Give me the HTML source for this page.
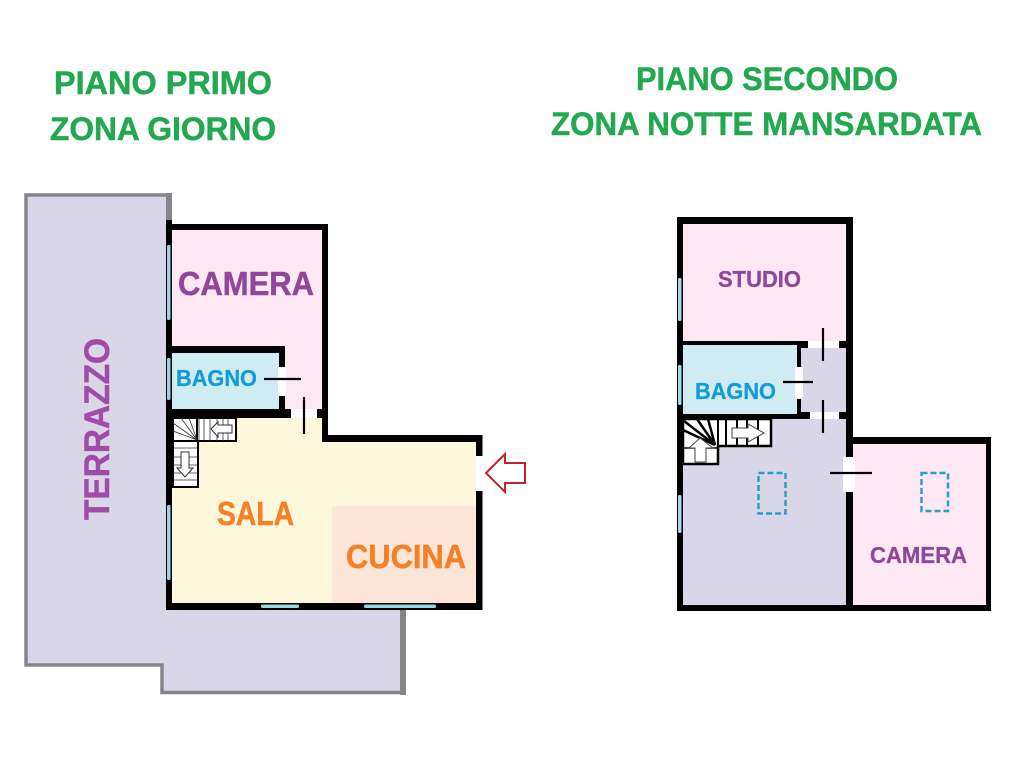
<!DOCTYPE html>
<html lang="it">
<head>
<meta charset="utf-8">
<title>Piano primo e secondo</title>
<style>
html,body{margin:0;padding:0;background:#fff;width:1024px;height:768px;overflow:hidden}
svg{display:block}
text{font-family:"Liberation Sans",sans-serif;font-weight:bold;paint-order:stroke}
</style>
</head>
<body>
<svg width="1024" height="768" viewBox="0 0 1024 768" xmlns="http://www.w3.org/2000/svg">
<rect width="1024" height="768" fill="#fff"/>

<!-- Titles -->
<g fill="#22a950" stroke="#22a950" stroke-width="0.500" font-size="32">
<text x="54" y="94" textLength="218" lengthAdjust="spacingAndGlyphs">PIANO PRIMO</text>
<text x="50" y="140" textLength="226" lengthAdjust="spacingAndGlyphs">ZONA GIORNO</text>
<text x="636" y="90" textLength="262" lengthAdjust="spacingAndGlyphs">PIANO SECONDO</text>
<text x="551" y="135" textLength="431" lengthAdjust="spacingAndGlyphs">ZONA NOTTE MANSARDATA</text>
</g>

<!-- Terrace -->
<polygon points="26,195 169.500,195 169.500,608 403,608 403,692.500 162,692.500 162,665 26,665" fill="#d9d6e8" stroke="#858589" stroke-width="3.500"/>
<rect x="400" y="608" width="6" height="87" fill="#858589"/>
<rect x="166" y="193" width="6" height="30" fill="#858589"/>

<!-- First floor fills -->
<rect x="172" y="230" width="150" height="190" fill="#fde8f3"/>
<rect x="172" y="353" width="107" height="56" fill="#cfecf3"/>
<polygon points="172,418 322,418 322,442 476,442 476,603 172,603" fill="#fef7dc"/>
<rect x="332" y="506" width="144" height="97" fill="#fde6d8"/>

<!-- First floor walls -->
<g fill="#000">
<rect x="166" y="220" width="6" height="390"/>
<rect x="166" y="224" width="162" height="6"/>
<rect x="322" y="224" width="6" height="218"/>
<rect x="322" y="435" width="160" height="7"/>
<rect x="476" y="435" width="6.500" height="21"/>
<rect x="476" y="491" width="6.500" height="119"/>
<rect x="166" y="603" width="316.500" height="7"/>
<rect x="172" y="346" width="113" height="7"/>
<rect x="279" y="346" width="6" height="21"/>
<rect x="279" y="396" width="6" height="14"/>
<rect x="172" y="409" width="119" height="9"/>
<rect x="317" y="409" width="6" height="9"/>
</g>
<!-- door openings first floor -->
<rect x="278" y="367" width="8" height="29" fill="#fff"/>
<rect x="291" y="409" width="26" height="9" fill="#fff"/>
<g stroke="#000" stroke-width="2.200">
<line x1="264" y1="379" x2="301" y2="379"/>
<line x1="304" y1="397" x2="304" y2="434"/>
</g>

<!-- Windows first floor -->
<g fill="#9bd5e3">
<rect x="167" y="245" width="3.500" height="75" rx="1.500"/>
<rect x="167" y="358" width="3.500" height="42" rx="1.500"/>
<rect x="167" y="505" width="3.500" height="75" rx="1.500"/>
<rect x="261" y="604.500" width="38" height="3.500" rx="1.500"/>
<rect x="364" y="604.500" width="72" height="3.500" rx="1.500"/>
</g>

<!-- Stairs first floor -->
<g fill="#fff" stroke="#000" stroke-width="2">
<rect x="173" y="418" width="24" height="23"/>
<rect x="197" y="418" width="39" height="23"/>
<rect x="173" y="441" width="25" height="46"/>
</g>
<g stroke="#333" stroke-width="0.800" fill="none">
<path d="M197,440 L173,423 M197,440 L173,431 M197,440 L181,418 M197,440 L189,418"/>
<path d="M199,418V441M204,418V441M210,418V441M217,418V441M223,418V441M228,418V441"/>
<path d="M173,448H198M173,457H198M173,465H198M173,473H198M173,480H198"/>
</g>
<polygon points="211,429 218,422 218,425 232,425 232,433 218,433 218,437" fill="#fff" stroke="#333" stroke-width="1"/>
<polygon points="181,452 189,452 189,468 193,468 185,477 177,468 181,468" fill="#fff" stroke="#333" stroke-width="1"/>

<!-- Entry arrow -->
<polygon points="486,473 505,454 505,463 525,463 525,483 505,483 505,492" fill="#fff" stroke="#c9202f" stroke-width="2"/>

<!-- First floor labels -->
<g stroke-width="0.500">
<text x="178" y="295" font-size="33" fill="#90479b" stroke="#90479b" textLength="136" lengthAdjust="spacingAndGlyphs">CAMERA</text>
<text x="217" y="525" font-size="33" fill="#f58026" stroke="#f58026" textLength="77" lengthAdjust="spacingAndGlyphs">SALA</text>
<text x="346" y="568" font-size="33" fill="#f58026" stroke="#f58026" textLength="120" lengthAdjust="spacingAndGlyphs">CUCINA</text>
<text transform="translate(109,520) rotate(-90)" font-size="35" fill="#a04ba8" stroke="#a04ba8" textLength="182" lengthAdjust="spacingAndGlyphs">TERRAZZO</text>
</g>
<text x="176" y="386" font-size="23" fill="#139cd8" stroke="#139cd8" stroke-width="0.300" textLength="81" lengthAdjust="spacingAndGlyphs">BAGNO</text>

<!-- Second floor fills -->
<rect x="683" y="223" width="163" height="120" fill="#fde8f3"/>
<rect x="683" y="345" width="115" height="69" fill="#cfecf3"/>
<rect x="801" y="348" width="45" height="65" fill="#d9d6e8"/>
<rect x="683" y="414" width="163" height="191" fill="#d9d6e8"/>
<rect x="852" y="443" width="134" height="162" fill="#fde8f3"/>

<!-- Second floor walls -->
<g fill="#000">
<rect x="677" y="217" width="6" height="394"/>
<rect x="677" y="217" width="176" height="7"/>
<rect x="846" y="217" width="7" height="240"/>
<rect x="846" y="492" width="7" height="119"/>
<rect x="677" y="605" width="314" height="6"/>
<rect x="846" y="437" width="145" height="7"/>
<rect x="986" y="437" width="5" height="174"/>
<rect x="683" y="341" width="125" height="4"/>
<rect x="797" y="341" width="11" height="7"/>
<rect x="839" y="341" width="7" height="7"/>
<rect x="797" y="345" width="4" height="22"/>
<rect x="797" y="399" width="4" height="16"/>
<rect x="683" y="414" width="127" height="5"/>
<rect x="797" y="412" width="13" height="7"/>
<rect x="839" y="412" width="7" height="7"/>
</g>
<!-- door openings second floor -->
<rect x="808" y="341" width="31" height="7" fill="#fff"/>
<rect x="810" y="412" width="29" height="7" fill="#fff"/>
<rect x="795" y="367" width="8" height="32" fill="#fff"/>
<rect x="843" y="457" width="12" height="35" fill="#fff"/>
<g stroke="#000" stroke-width="2.200">
<line x1="823" y1="328" x2="823" y2="361"/>
<line x1="783" y1="382" x2="813" y2="382"/>
<line x1="823" y1="400" x2="823" y2="433"/>
<line x1="830" y1="473" x2="872" y2="473"/>
</g>

<!-- Windows second floor -->
<g fill="#a5dcec">
<rect x="678" y="278" width="3.500" height="43" rx="1.500"/>
<rect x="678" y="365" width="3.500" height="40" rx="1.500"/>
<rect x="678" y="495" width="3.500" height="38" rx="1.500"/>
</g>

<!-- Stairs second floor -->
<polygon points="683,419 771,419 771,446 718,446 718,464 683,464" fill="#fff" stroke="#000" stroke-width="2.500"/>
<g stroke="#000" fill="none">
<path d="M715,445 L683,430 M715,445 L684,421 M715,445 L697,419 M715,445 L708,419" stroke-width="2.500"/>
<path d="M718,419V446M726,419V446M737,419V446M747,419V446M758,419V446" stroke-width="2"/>
<path d="M683,448H717" stroke-width="1.500"/>
</g>
<polygon points="732,428 748,428 748,424 764,433 748,442 748,438 732,438" fill="#fff" stroke="#444" stroke-width="1"/>
<polygon points="700,438 713,448 706,448 706,462 695,462 695,448 689,448" fill="#fff" stroke="#444" stroke-width="1"/>

<!-- Skylights -->
<g fill="none" stroke="#2a9fc9" stroke-width="2.500" stroke-dasharray="6 3">
<rect x="758.500" y="473" width="27" height="40.500"/>
<rect x="921.500" y="473" width="26.500" height="38"/>
</g>

<!-- Second floor labels -->
<g stroke-width="0.300">
<text x="718" y="287" font-size="23" fill="#90479b" stroke="#90479b" textLength="83" lengthAdjust="spacingAndGlyphs">STUDIO</text>
<text x="695" y="399" font-size="23" fill="#139cd8" stroke="#139cd8" textLength="81" lengthAdjust="spacingAndGlyphs">BAGNO</text>
<text x="870" y="563" font-size="23" fill="#90479b" stroke="#90479b" textLength="97" lengthAdjust="spacingAndGlyphs">CAMERA</text>
</g>
</svg>
</body>
</html>
